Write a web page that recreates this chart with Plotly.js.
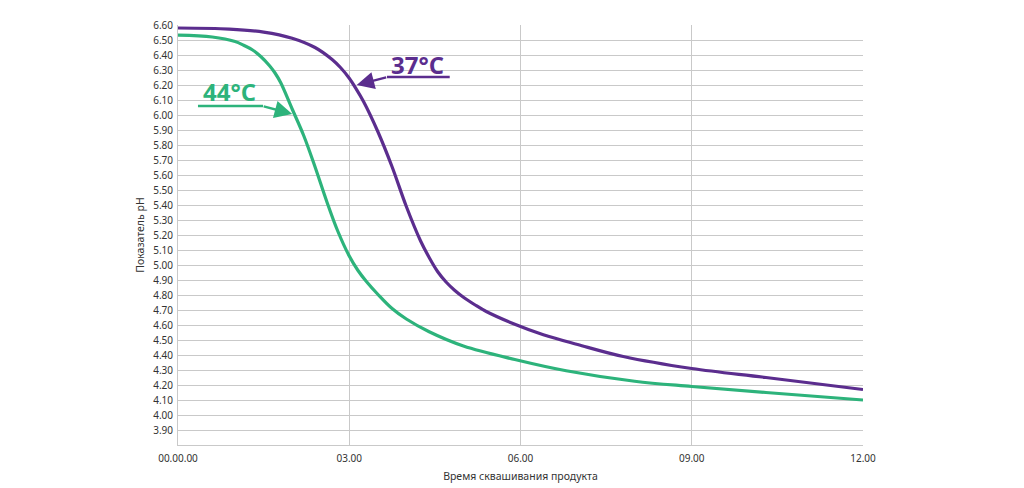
<!DOCTYPE html>
<html>
<head>
<meta charset="utf-8">
<script src="https://cdn.plot.ly/plotly-3.0.1.min.js"></script>
<style>html,body{margin:0;padding:0;background:#fff;}#chart{width:1024px;height:488px;}</style>
</head>
<body>
<div id="chart"></div>
<script>
// Time (hours) and pH readings for 37°C
const hours37 = [0, 0.9, 1.5, 2.0, 2.4, 2.7, 2.85, 3.0, 3.12, 3.25, 3.5, 3.75, 4.0, 4.25, 4.4, 4.55, 4.7, 4.85, 5.0, 5.2, 5.4, 5.9, 6.4, 7.0, 7.8, 9.0, 10.3, 12.0];
const ph37    = [6.58, 6.573, 6.553, 6.512, 6.45, 6.37, 6.315, 6.245, 6.175, 6.09, 5.89, 5.655, 5.39, 5.16, 5.05, 4.955, 4.885, 4.83, 4.785, 4.735, 4.69, 4.605, 4.535, 4.47, 4.39, 4.31, 4.25, 4.17];
// Time (hours) and pH readings for 44°C
const hours44 = [0, 0.6, 1.0, 1.15, 1.3, 1.45, 1.6, 1.7, 1.8, 2.0, 2.2, 2.4, 2.6, 2.8, 3.0, 3.15, 3.3, 3.5, 3.75, 4.0, 4.4, 5.0, 5.9, 6.8, 8.0, 9.0, 10.3, 12.0];
const ph44    = [6.533, 6.52, 6.49, 6.465, 6.435, 6.39, 6.33, 6.28, 6.215, 6.04, 5.865, 5.655, 5.43, 5.225, 5.06, 4.965, 4.89, 4.805, 4.71, 4.64, 4.555, 4.46, 4.37, 4.295, 4.225, 4.19, 4.15, 4.10];

const xTickVals = [0, 3, 6, 9, 12];
const xTickText = ["00.00.00", "03.00", "06.00", "09.00", "12.00"];
const yTickVals = [3.9, 4.0, 4.1, 4.2, 4.3, 4.4, 4.5, 4.6, 4.7, 4.8, 4.9, 5.0, 5.1, 5.2, 5.3, 5.4, 5.5, 5.6, 5.7, 5.8, 5.9, 6.0, 6.1, 6.2, 6.3, 6.4, 6.5, 6.6];
const yTickText = yTickVals.map(v => v.toFixed(2));

const label37 = "37°C";
const label44 = "44°C";
const xTitle = "Время сквашивания продукта";
const yTitle = "Показатель pH";

const purple = "#5b2d8e";
const green = "#2db37b";
const font = "Noto Sans, Open Sans, sans-serif";

const traces = [
  {x: hours44, y: ph44, mode: "lines", line: {color: green, width: 3.2, shape: "spline", smoothing: 1}, hoverinfo: "none"},
  {x: hours37, y: ph37, mode: "lines", line: {color: purple, width: 3.2, shape: "spline", smoothing: 1}, hoverinfo: "none"}
];

const layout = {
  width: 1024, height: 488,
  margin: {l: 178, r: 161, t: 25, b: 43},
  paper_bgcolor: "#fff", plot_bgcolor: "#fff",
  showlegend: false,
  font: {family: font, size: 10, color: "#333"},
  xaxis: {
    range: [0, 12], tickvals: xTickVals, ticktext: xTickText,
    showgrid: true, gridcolor: "#c9c9c9", gridwidth: 1,
    showline: true, linecolor: "#c9c9c9", linewidth: 1,
    zeroline: false, ticks: "", ticklabelstandoff: 4,
    tickfont: {family: font, size: 10, color: "#333"},
    title: {text: xTitle, font: {family: font, size: 10.5, color: "#333"}, standoff: 8},
    fixedrange: true
  },
  yaxis: {
    range: [3.8, 6.6], tickvals: yTickVals, ticktext: yTickText,
    showgrid: true, gridcolor: "#c9c9c9", gridwidth: 1,
    showline: true, linecolor: "#c9c9c9", linewidth: 1,
    zeroline: false, ticks: "", ticklabelstandoff: 2,
    tickfont: {family: font, size: 10, color: "#333"},
    title: {text: yTitle, font: {family: font, size: 10.5, color: "#333"}, standoff: 6},
    fixedrange: true
  },
  shapes: [
    {type: "line", xref: "x", yref: "y", x0: 3.66, x1: 4.76, y0: 6.253, y1: 6.253, line: {color: purple, width: 2.5}},
    {type: "line", xref: "x", yref: "y", x0: 0.35, x1: 1.49, y0: 6.06, y1: 6.06, line: {color: green, width: 2.5}}
  ],
  annotations: [
    {x: 4.20, y: 6.34, xref: "x", yref: "y", text: "<b>" + label37 + "</b>", showarrow: false, font: {family: "Open Sans, sans-serif", size: 24, color: purple}},
    {x: 0.91, y: 6.16, xref: "x", yref: "y", text: "<b>" + label44 + "</b>", showarrow: false, font: {family: "Open Sans, sans-serif", size: 24, color: green}},
    {x: 3.13, y: 6.20, xref: "x", yref: "y", text: "", showarrow: true, ax: 31, ay: -8, arrowhead: 2, arrowsize: 1.4, arrowwidth: 2.5, arrowcolor: purple, standoff: 0},
    {x: 2.0, y: 6.007, xref: "x", yref: "y", text: "", showarrow: true, ax: -30, ay: -8, arrowhead: 2, arrowsize: 1.4, arrowwidth: 2.5, arrowcolor: green, standoff: 0}
  ]
};

Plotly.newPlot("chart", traces, layout, {staticPlot: true, displayModeBar: false});
</script>
</body>
</html>
